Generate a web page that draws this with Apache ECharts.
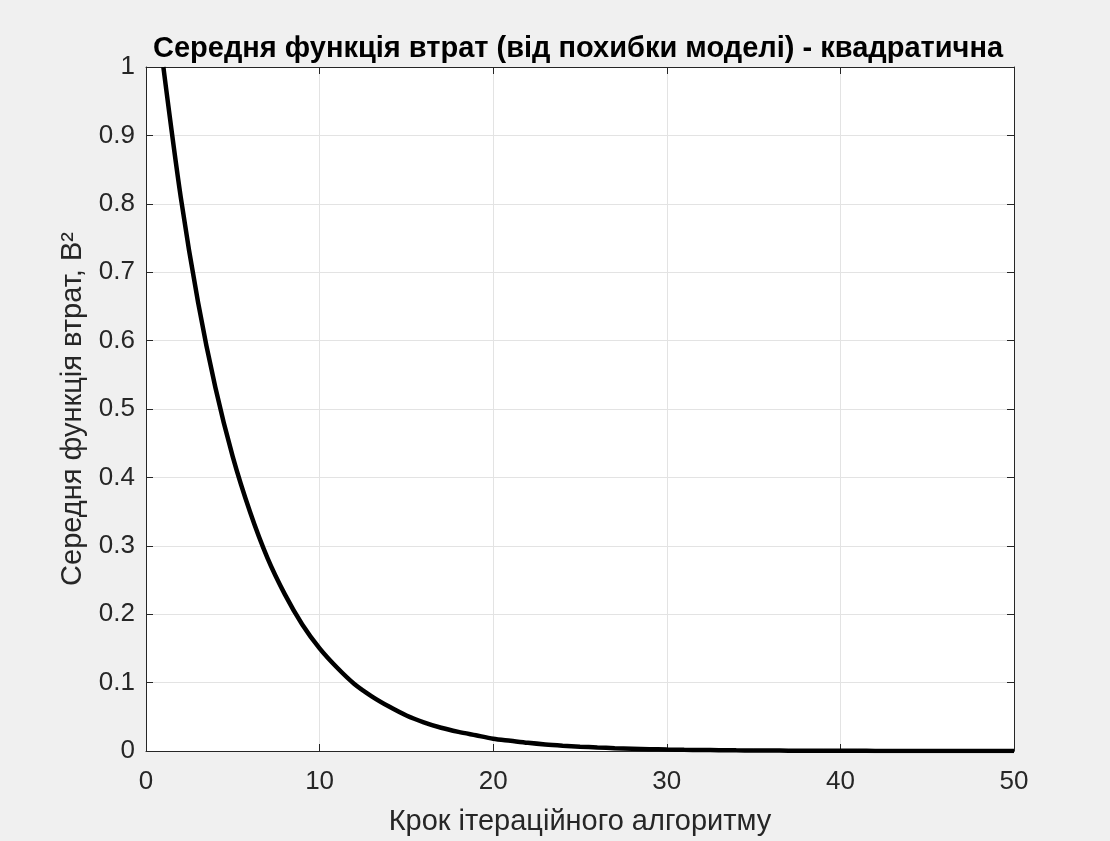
<!DOCTYPE html>
<html>
<head>
<meta charset="utf-8">
<script src="https://cdn.jsdelivr.net/npm/echarts@6/dist/echarts.min.js"></script>
<style>
  html, body { margin: 0; padding: 0; background: #f0f0f0; }
  #chart { width: 1110px; height: 841px; }
</style>
</head>
<body>
<div id="chart"></div>
<script>
// Iteration steps and the mean quadratic loss at each step
const steps = [1,2,3,4,5,6,7,8,9,10,11,12,13,14,15,16,17,18,19,20,21,22,23,24,25,
  26,27,28,29,30,31,32,33,34,35,36,37,38,39,40,41,42,43,44,45,46,47,48,49,50];
const loss = [1.000,0.810,0.656,0.531,0.430,0.349,0.282,0.229,0.185,0.150,
  0.122,0.098,0.080,0.065,0.052,0.042,0.034,0.028,0.023,0.018,
  0.015,0.012,0.0096,0.0078,0.0063,0.0051,0.0041,0.0034,0.0027,0.0022,
  0.0018,0.0015,0.0012,0.00095,0.00077,0.00062,0.0005,0.0004,0.00033,0.00027,
  0.00022,0.00018,0.00014,0.00012,0.0001,0.00008,0.00006,0.00005,0.00004,0.00003];

const titleText = 'Середня функція втрат (від похибки моделі) - квадратична';
const xName = 'Крок ітераційного алгоритму';
const yName = 'Середня функція втрат, В²';

const font = '"Liberation Sans", Arial, Helvetica, sans-serif';
const ink = '#262626';
const gridLine = '#e3e3e3';

const chart = echarts.init(document.getElementById('chart'), null, { renderer: 'canvas' });

// Box edges (top and right): line plus inward ticks, no labels
const boxSide = (pos) => ({
  position: pos,
  axisLine: { show: true, onZero: false, lineStyle: { color: ink, width: 1 } },
  axisTick: { show: true, inside: true, length: 7, lineStyle: { color: ink } },
  axisLabel: { show: false },
  splitLine: { show: false }
});

chart.setOption({
  backgroundColor: '#f0f0f0',
  animation: false,
  title: {
    text: titleText,
    left: 573,
    textAlign: 'center',
    top: 29,
    textStyle: { fontFamily: font, fontSize: 29, fontWeight: 'bold', color: '#000' }
  },
  grid: {
    left: 146, right: 96, top: 67, bottom: 88,
    show: true, backgroundColor: '#ffffff', borderWidth: 0
  },
  xAxis: [
    {
      type: 'value', min: 0, max: 50, interval: 10,
      name: xName, nameLocation: 'middle', nameGap: 56,
      nameTextStyle: { fontFamily: font, fontSize: 29, color: ink },
      axisLine: { show: true, onZero: false, lineStyle: { color: ink, width: 1 } },
      axisTick: { show: true, inside: true, length: 7, lineStyle: { color: ink } },
      axisLabel: { fontFamily: font, fontSize: 26, color: ink, margin: 18 },
      splitLine: { show: true, lineStyle: { color: gridLine, width: 1 } }
    },
    Object.assign({ type: 'value', min: 0, max: 50, interval: 10 }, boxSide('top'))
  ],
  yAxis: [
    {
      type: 'value', min: 0, max: 1, interval: 0.1,
      name: yName, nameLocation: 'middle', nameGap: 54,
      nameTextStyle: { fontFamily: font, fontSize: 29, color: ink },
      axisLine: { show: true, onZero: false, lineStyle: { color: ink, width: 1 } },
      axisTick: { show: true, inside: true, length: 7, lineStyle: { color: ink } },
      axisLabel: { fontFamily: font, fontSize: 26, color: ink, margin: 11 },
      splitLine: { show: true, lineStyle: { color: gridLine, width: 1 } }
    },
    Object.assign({ type: 'value', min: 0, max: 1, interval: 0.1 }, boxSide('right'))
  ],
  series: [
    {
      type: 'line',
      data: steps.map((s, i) => [s, loss[i]]),
      showSymbol: false,
      smooth: 0.3,
      clip: true,
      lineStyle: { color: '#000000', width: 4.5 },
      z: 5
    }
  ]
});
</script>
</body>
</html>
